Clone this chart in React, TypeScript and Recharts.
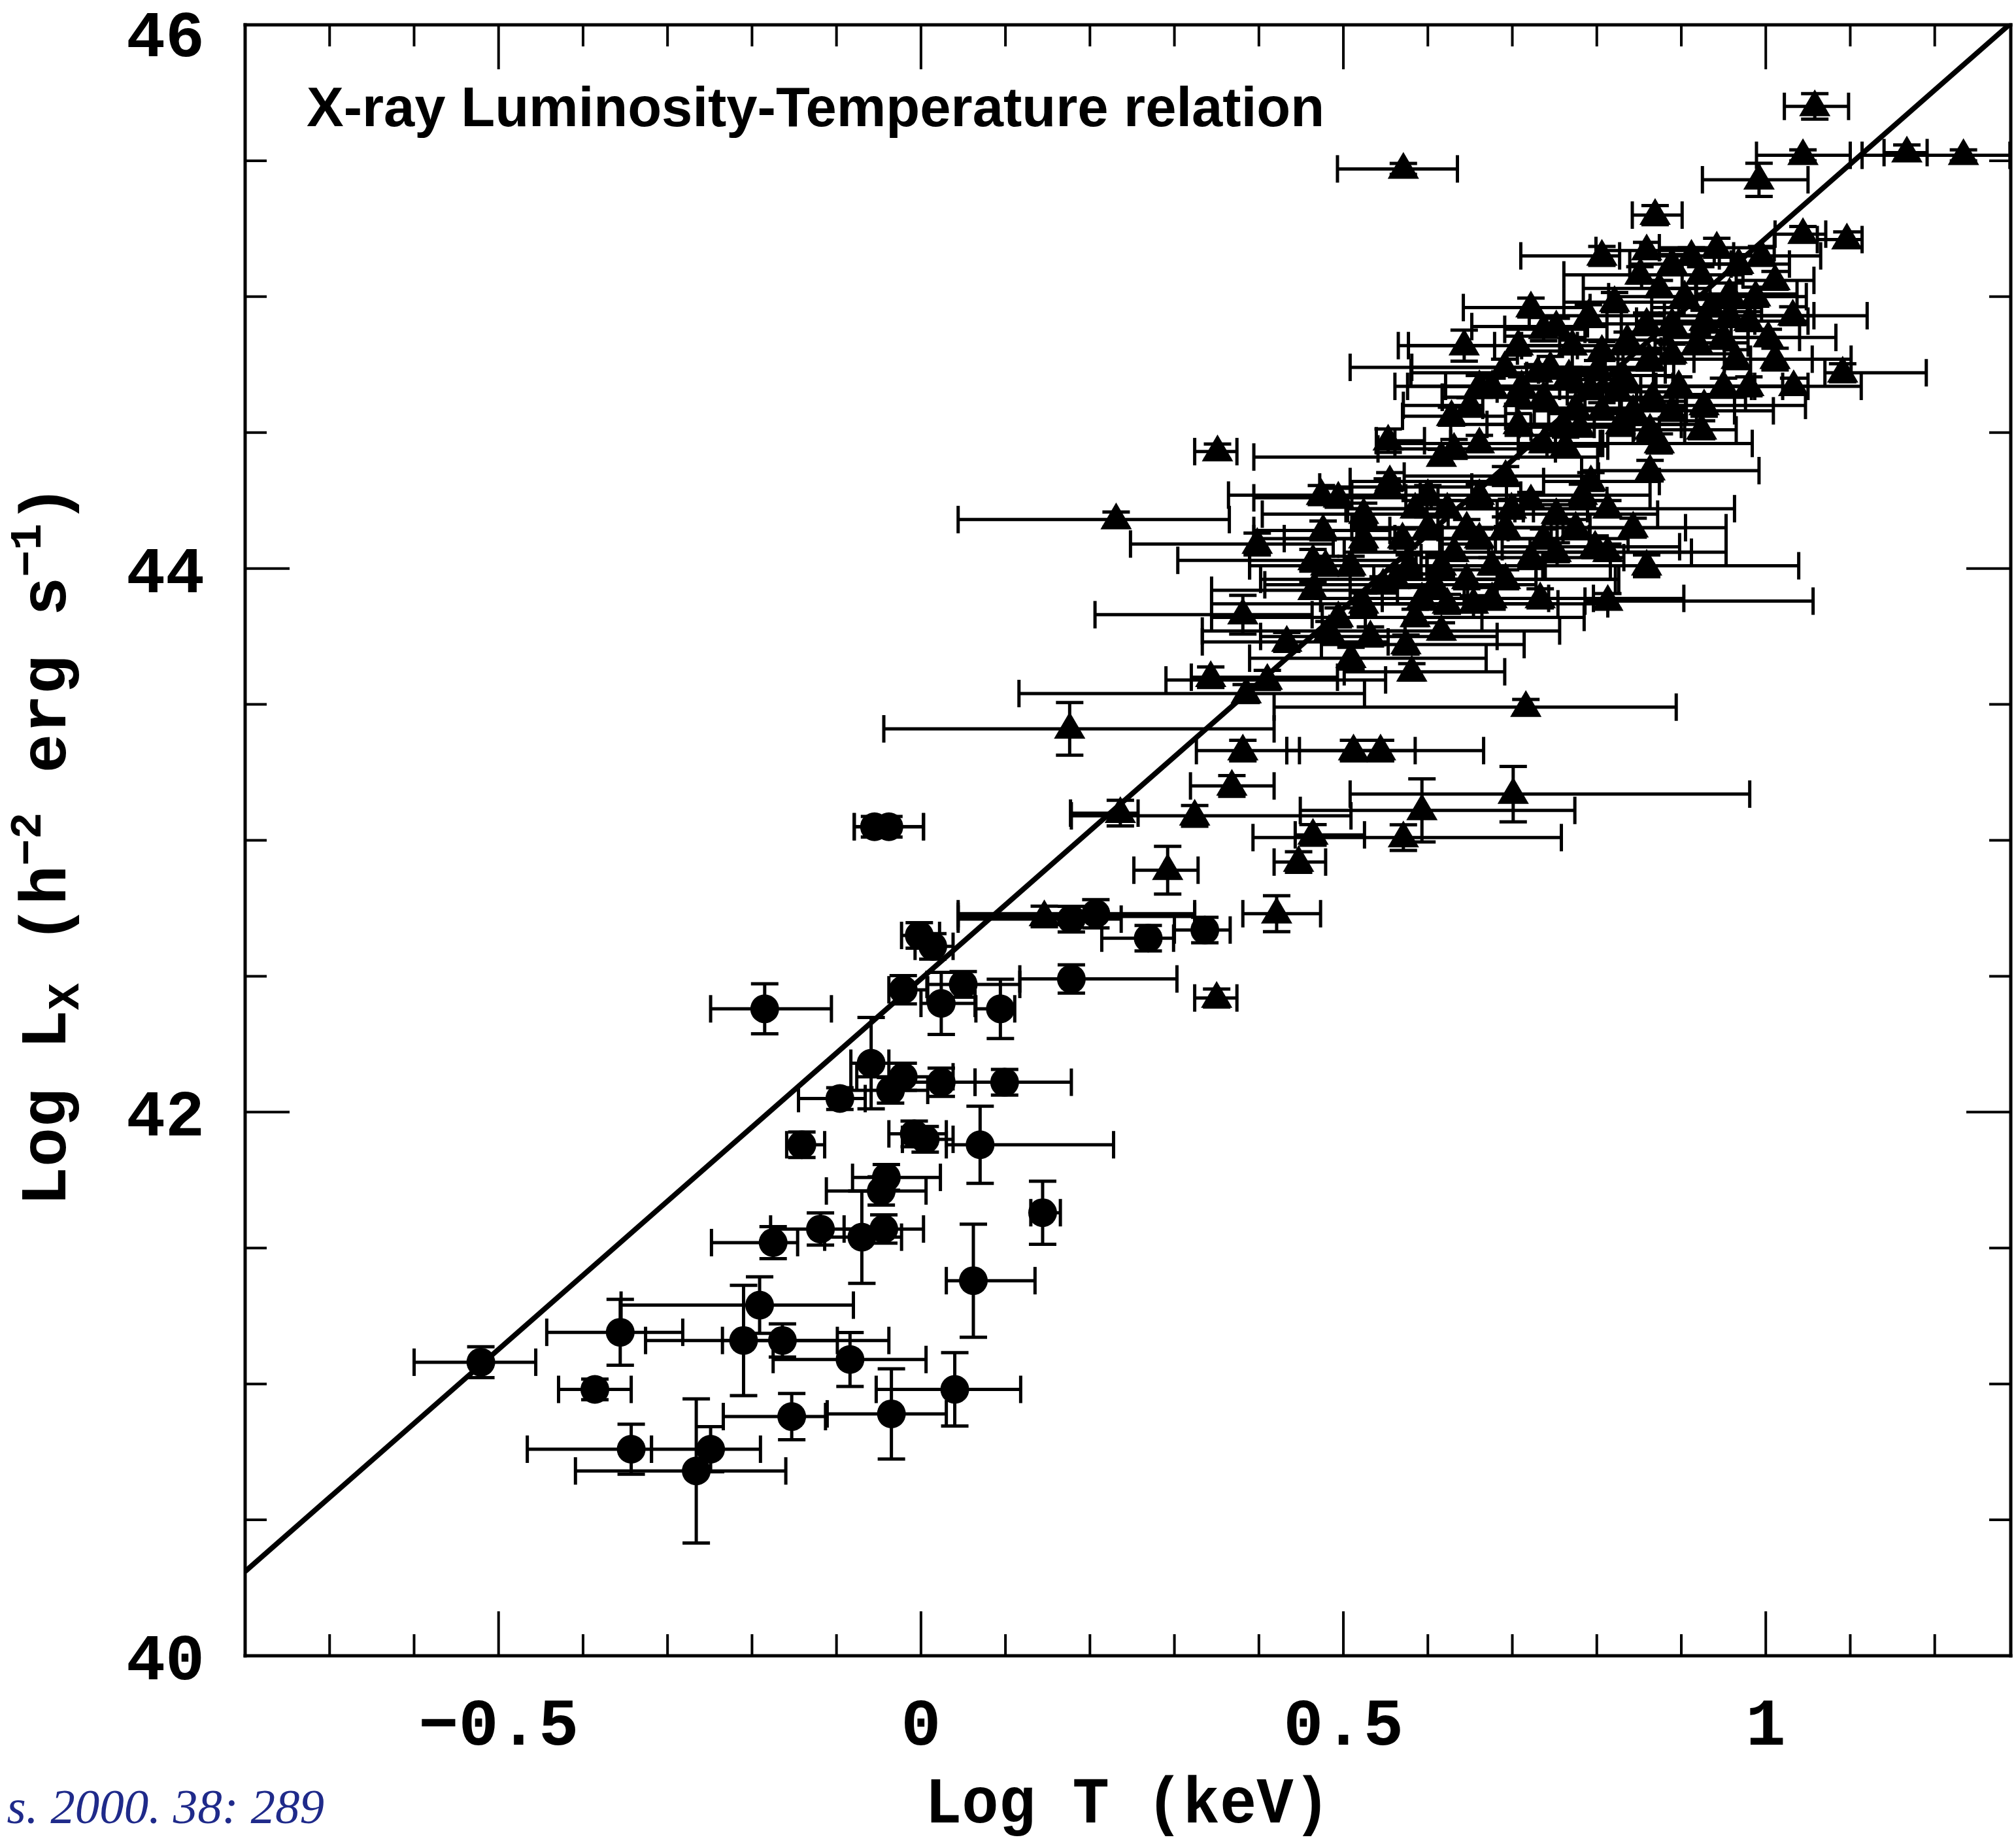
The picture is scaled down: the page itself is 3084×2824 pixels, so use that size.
import React from 'react';
import { ScatterChart, Scatter, XAxis, YAxis, ErrorBar } from 'recharts';

// Each row: [log T (keV), log Lx, T error below, T error above, Lx error]
const groupPoints: number[][] = [
  [-0.521, 41.08, 0.079, 0.065, 0.057],
  [-0.386, 40.98, 0.043, 0.043, 0.038],
  [-0.356, 41.19, 0.087, 0.074, 0.121],
  [-0.343, 40.76, 0.123, 0.024, 0.092],
  [-0.266, 40.68, 0.143, 0.106, 0.265],
  [-0.249, 40.76, 0.070, 0.059, 0.083],
  [-0.210, 41.16, 0.116, 0.172, 0.203],
  [-0.191, 41.29, 0.164, 0.111, 0.104],
  [-0.175, 41.52, 0.073, 0.029, 0.059],
  [-0.164, 41.16, 0.071, 0.065, 0.061],
  [-0.153, 40.88, 0.081, 0.040, 0.085],
  [-0.119, 41.57, 0.059, 0.081, 0.059],
  [-0.084, 41.09, 0.091, 0.090, 0.099],
  [-0.070, 41.54, 0.044, 0.047, 0.170],
  [-0.044, 41.57, 0.047, 0.047, 0.052],
  [-0.047, 41.71, 0.065, 0.053, 0.052],
  [-0.035, 40.89, 0.076, 0.065, 0.166],
  [0.040, 40.98, 0.093, 0.078, 0.135],
  [0.062, 41.38, 0.032, 0.073, 0.208],
  [0.144, 41.63, 0.014, 0.021, 0.116],
  [-0.096, 42.05, 0.049, 0.030, 0.040],
  [-0.059, 42.18, 0.024, 0.021, 0.168],
  [-0.021, 42.13, 0.055, 0.059, 0.050],
  [-0.036, 42.08, 0.047, 0.044, 0.047],
  [0.024, 42.11, 0.047, 0.040, 0.052],
  [0.099, 42.11, 0.035, 0.079, 0.047],
  [-0.008, 41.92, 0.030, 0.038, 0.047],
  [0.005, 41.90, 0.027, 0.033, 0.047],
  [0.070, 41.88, 0.040, 0.158, 0.142],
  [-0.041, 41.76, 0.040, 0.064, 0.047],
  [-0.141, 41.88, 0.018, 0.027, 0.047],
  [-0.185, 42.38, 0.064, 0.079, 0.092],
  [-0.055, 43.05, 0.024, 0.058, 0.038],
  [-0.038, 43.05, 0.041, 0.041, 0.038],
  [-0.002, 42.65, 0.021, 0.024, 0.047],
  [0.014, 42.61, 0.021, 0.024, 0.047],
  [-0.021, 42.45, 0.017, 0.029, 0.052],
  [0.024, 42.40, 0.024, 0.040, 0.114],
  [0.050, 42.47, 0.043, 0.067, 0.047],
  [0.178, 42.49, 0.061, 0.125, 0.052],
  [0.094, 42.38, 0.029, 0.017, 0.109],
  [0.178, 42.71, 0.134, 0.059, 0.047],
  [0.207, 42.73, 0.163, 0.117, 0.052],
  [0.269, 42.64, 0.055, 0.030, 0.047],
  [0.336, 42.67, 0.036, 0.030, 0.047],
];

const clusterPoints: number[][] = [
  [1.058, 45.70, 0.036, 0.040, 0.047],
  [0.571, 45.47, 0.078, 0.064, 0.020],
  [1.044, 45.52, 0.055, 0.056, 0.020],
  [0.992, 45.43, 0.067, 0.058, 0.061],
  [1.167, 45.53, 0.027, 0.024, 0.028],
  [1.234, 45.52, 0.120, 0.055, 0.020],
  [0.869, 45.30, 0.027, 0.032, 0.035],
  [0.806, 45.15, 0.096, 0.021, 0.035],
  [1.044, 45.23, 0.033, 0.027, 0.028],
  [1.096, 45.21, 0.035, 0.018, 0.028],
  [0.942, 45.18, 0.068, 0.068, 0.035],
  [1.011, 45.06, 0.046, 0.046, 0.033],
  [1.032, 44.93, 0.052, 0.088, 0.033],
  [1.091, 44.72, 0.021, 0.099, 0.033],
  [0.863, 44.51, 0.020, 0.041, 0.040],
  [0.924, 44.51, 0.050, 0.041, 0.033],
  [0.863, 44.36, 0.081, 0.129, 0.038],
  [0.643, 44.82, 0.078, 0.036, 0.057],
  [0.737, 44.88, 0.046, 0.049, 0.043],
  [0.650, 44.60, 0.079, 0.015, 0.028],
  [0.628, 44.56, 0.058, 0.064, 0.033],
  [0.553, 44.47, 0.014, 0.043, 0.043],
  [0.616, 44.41, 0.222, 0.185, 0.028],
  [0.555, 44.32, 0.047, 0.138, 0.033],
  [0.476, 44.14, 0.082, 0.079, 0.035],
  [0.780, 44.52, 0.058, 0.064, 0.033],
  [0.793, 44.32, 0.056, 0.081, 0.033],
  [0.763, 44.45, 0.056, 0.050, 0.033],
  [0.351, 44.43, 0.027, 0.023, 0.028],
  [0.231, 44.18, 0.187, 0.134, 0.028],
  [0.176, 43.41, 0.220, 0.242, 0.097],
  [0.381, 43.83, 0.175, 0.082, 0.071],
  [0.343, 43.60, 0.023, 0.150, 0.038],
  [0.385, 43.54, 0.269, 0.140, 0.033],
  [0.381, 43.33, 0.055, 0.067, 0.038],
  [0.368, 43.20, 0.049, 0.050, 0.038],
  [0.236, 43.10, 0.059, 0.021, 0.047],
  [0.324, 43.09, 0.146, 0.185, 0.038],
  [0.292, 42.89, 0.040, 0.036, 0.088],
  [0.350, 42.42, 0.026, 0.024, 0.033],
  [0.146, 42.72, 0.102, 0.178, 0.038],
  [0.716, 43.49, 0.298, 0.178, 0.028],
  [0.813, 43.88, 0.027, 0.243, 0.028],
  [0.512, 43.33, 0.079, 0.073, 0.038],
  [0.544, 43.33, 0.111, 0.122, 0.038],
  [0.701, 43.17, 0.193, 0.280, 0.102],
  [0.593, 43.11, 0.144, 0.181, 0.116],
  [0.571, 43.01, 0.178, 0.187, 0.047],
  [0.464, 43.02, 0.021, 0.061, 0.038],
  [0.447, 42.92, 0.029, 0.032, 0.038],
  [0.421, 42.73, 0.040, 0.052, 0.066],
  [0.968, 45.12, 0.05, 0.06, 0.035],
  [0.923, 45.08, 0.07, 0.05, 0.03],
  [0.957, 45.01, 0.04, 0.08, 0.04],
  [0.904, 45.00, 0.09, 0.06, 0.03],
  [0.980, 44.91, 0.05, 0.07, 0.035],
  [0.889, 44.90, 0.06, 0.09, 0.04],
  [0.836, 44.84, 0.08, 0.05, 0.03],
  [0.806, 44.80, 0.10, 0.07, 0.035],
  [0.771, 44.82, 0.06, 0.06, 0.03],
  [0.745, 44.74, 0.237, 0.08, 0.04],
  [0.767, 44.71, 0.05, 0.10, 0.03],
  [0.801, 44.73, 0.07, 0.08, 0.035],
  [0.831, 44.71, 0.09, 0.06, 0.03],
  [0.862, 44.77, 0.06, 0.12, 0.04],
  [0.889, 44.79, 0.08, 0.07, 0.035],
  [0.919, 44.83, 0.05, 0.06, 0.03],
  [0.950, 44.85, 0.07, 0.09, 0.04],
  [1.003, 44.85, 0.05, 0.08, 0.03],
  [0.897, 44.67, 0.10, 0.09, 0.035],
  [0.866, 44.63, 0.08, 0.11, 0.04],
  [0.825, 44.65, 0.06, 0.07, 0.03],
  [0.792, 44.66, 0.11, 0.06, 0.035],
  [0.775, 44.59, 0.07, 0.13, 0.04],
  [0.730, 44.72, 0.15, 0.08, 0.03],
  [0.711, 44.67, 0.09, 0.10, 0.035],
  [0.828, 44.53, 0.12, 0.09, 0.04],
  [0.889, 44.58, 0.06, 0.12, 0.035],
  [0.950, 44.67, 0.08, 0.07, 0.03],
  [0.965, 44.77, 0.05, 0.09, 0.035],
  [0.935, 44.96, 0.07, 0.06, 0.03],
  [0.912, 45.15, 0.06, 0.05, 0.03],
  [0.995, 45.15, 0.05, 0.07, 0.035],
  [0.874, 45.03, 0.09, 0.06, 0.03],
  [0.859, 44.90, 0.07, 0.10, 0.04],
  [0.707, 44.82, 0.13, 0.07, 0.035],
  [0.676, 44.67, 0.10, 0.08, 0.03],
  [0.927, 44.60, 0.08, 0.12, 0.04],
  [0.722, 44.96, 0.08, 0.07, 0.035],
  [0.752, 44.89, 0.10, 0.06, 0.03],
  [0.790, 44.93, 0.07, 0.09, 0.04],
  [0.821, 44.98, 0.06, 0.08, 0.035],
  [0.851, 45.08, 0.09, 0.05, 0.03],
  [0.889, 45.12, 0.05, 0.07, 0.035],
  [0.927, 44.91, 0.08, 0.06, 0.04],
  [0.957, 44.93, 0.06, 0.10, 0.03],
  [0.988, 45.00, 0.07, 0.06, 0.035],
  [1.011, 44.77, 0.06, 0.09, 0.04],
  [1.033, 44.67, 0.05, 0.08, 0.03],
  [0.980, 44.67, 0.09, 0.07, 0.035],
  [0.843, 44.58, 0.10, 0.12, 0.04],
  [0.806, 44.58, 0.08, 0.10, 0.03],
  [0.737, 44.63, 0.12, 0.09, 0.035],
  [0.760, 44.53, 0.09, 0.14, 0.04],
  [0.874, 44.46, 0.07, 0.11, 0.035],
  [0.691, 44.74, 0.11, 0.08, 0.03],
  [0.661, 44.67, 0.10, 0.12, 0.04],
  [0.859, 45.17, 0.06, 0.08, 0.03],
  [0.494, 44.26, 0.10, 0.08, 0.035],
  [0.524, 44.20, 0.12, 0.10, 0.04],
  [0.585, 44.22, 0.08, 0.14, 0.03],
  [0.570, 44.11, 0.14, 0.11, 0.035],
  [0.600, 44.15, 0.09, 0.16, 0.04],
  [0.631, 44.06, 0.13, 0.09, 0.03],
  [0.661, 44.11, 0.10, 0.13, 0.035],
  [0.692, 44.15, 0.08, 0.10, 0.04],
  [0.722, 44.25, 0.11, 0.09, 0.03],
  [0.752, 44.20, 0.07, 0.12, 0.035],
  [0.783, 44.27, 0.09, 0.08, 0.04],
  [0.813, 44.22, 0.10, 0.15, 0.03],
  [0.737, 44.11, 0.12, 0.10, 0.035],
  [0.616, 44.01, 0.15, 0.12, 0.04],
  [0.646, 43.96, 0.11, 0.18, 0.035],
  [0.676, 44.01, 0.09, 0.14, 0.03],
  [0.722, 44.04, 0.13, 0.11, 0.04],
  [0.752, 44.06, 0.08, 0.16, 0.035],
  [0.562, 43.96, 0.16, 0.12, 0.03],
  [0.593, 43.89, 0.12, 0.15, 0.04],
  [0.623, 43.87, 0.10, 0.19, 0.035],
  [0.654, 43.87, 0.14, 0.10, 0.03],
  [0.524, 43.87, 0.18, 0.13, 0.04],
  [0.494, 43.82, 0.15, 0.17, 0.035],
  [0.464, 43.92, 0.12, 0.10, 0.03],
  [0.479, 44.01, 0.09, 0.12, 0.035],
  [0.524, 44.11, 0.13, 0.09, 0.04],
  [0.574, 43.72, 0.10, 0.14, 0.035],
  [0.581, 43.62, 0.08, 0.11, 0.03],
  [0.509, 43.67, 0.12, 0.16, 0.04],
  [0.483, 43.77, 0.15, 0.09, 0.035],
  [0.585, 43.82, 0.11, 0.20, 0.03],
  [0.676, 43.89, 0.13, 0.12, 0.04],
  [0.733, 43.89, 0.09, 0.17, 0.035],
  [0.661, 44.46, 0.10, 0.08, 0.03],
  [0.692, 44.34, 0.12, 0.11, 0.035],
  [0.707, 44.53, 0.08, 0.09, 0.04],
  [0.737, 44.46, 0.11, 0.07, 0.03],
  [0.631, 44.44, 0.09, 0.12, 0.035],
  [0.398, 44.09, 0.15, 0.09, 0.04],
  [0.474, 44.27, 0.11, 0.13, 0.035],
  [0.552, 44.30, 0.08, 0.10, 0.03],
  [0.410, 43.59, 0.12, 0.14, 0.035],
  [0.707, 44.63, 0.09, 0.10, 0.03],
  [0.464, 44.03, 0.16, 0.11, 0.04],
  [0.433, 43.73, 0.10, 0.12, 0.035],
  [0.813, 44.06, 0.06, 0.14, 0.03],
  [0.843, 44.15, 0.09, 0.11, 0.035],
  [0.859, 44.01, 0.12, 0.18, 0.04],
  [0.600, 44.27, 0.09, 0.11, 0.035],
  [0.623, 44.22, 0.12, 0.08, 0.03],
  [0.661, 44.27, 0.07, 0.12, 0.04],
  [0.699, 44.22, 0.10, 0.09, 0.035],
  [0.646, 44.15, 0.13, 0.10, 0.03],
  [0.578, 44.01, 0.11, 0.15, 0.04],
  [0.692, 43.96, 0.09, 0.13, 0.035],
  [0.547, 43.94, 0.14, 0.10, 0.03],
  [0.608, 43.94, 0.10, 0.12, 0.04],
  [0.509, 44.01, 0.12, 0.09, 0.035],
  [0.775, 44.15, 0.08, 0.13, 0.03],
  [0.798, 44.08, 0.11, 0.10, 0.04],
  [0.532, 43.75, 0.13, 0.15, 0.035],
  [0.616, 43.77, 0.09, 0.14, 0.03],
];

// Best-fit relation endpoints [log T, log Lx]
const fitLinePoints: number[][] = [
  [-0.8, 40.31],
  [1.288, 46.0],
];

const xDomain = [-0.8, 1.29];
const yDomain = [40, 46];
const xTickValues = [-0.7, -0.6, -0.5, -0.4, -0.3, -0.2, -0.1, 0, 0.1, 0.2, 0.3, 0.4, 0.5, 0.6, 0.7, 0.8, 0.9, 1, 1.1, 1.2];
const yTickValues = [40, 40.5, 41, 41.5, 42, 42.5, 43, 43.5, 44, 44.5, 45, 45.5, 46];
const xTickLabels: Record<string, string> = { '-0.5': '\u22120.5', '0': '0', '0.5': '0.5', '1': '1' };
const yTickLabels: Record<string, string> = { '40': '40', '42': '42', '44': '44', '46': '46' };

const titleText = 'X-ray Luminosity-Temperature relation';
const xAxisTitle = 'Log T (keV)';
const citationText = 's. 2000. 38: 289';

const toRows = (pts: number[][]) =>
  pts.map((p) => ({ t: p[0], l: p[1], et: [p[2], p[3]], el: p[4] }));

const groupRows = toRows(groupPoints);
const clusterRows = toRows(clusterPoints);
const fitRows = fitLinePoints.map((p) => ({ t: p[0], l: p[1] }));

const W = 3084;
const H = 2824;
const MONO = "'Liberation Mono', 'DejaVu Sans Mono', monospace";
const MAJOR = 68;
const MINOR = 33;
const TICK_W = 4;
const ERR_W = 5;

const makeXTick = (dir: number, withLabel: boolean) => (props: any) => {
  const { x, y, payload } = props;
  const key = String(payload.value);
  const major = key in xTickLabels;
  const len = major ? MAJOR : MINOR;
  return (
    <g>
      <line x1={x} x2={x} y1={y} y2={y - dir * len} stroke="#000" strokeWidth={TICK_W} />
      {withLabel && major && (
        <text x={x} y={y + 136} textAnchor="middle" fontFamily={MONO} fontWeight="bold" fontSize={102} fill="#000">
          {xTickLabels[key]}
        </text>
      )}
    </g>
  );
};

const makeYTick = (dir: number, withLabel: boolean) => (props: any) => {
  const { x, y, payload } = props;
  const key = String(payload.value);
  const major = key in yTickLabels;
  const len = major ? MAJOR : MINOR;
  return (
    <g>
      <line x1={x} x2={x + dir * len} y1={y} y2={y} stroke="#000" strokeWidth={TICK_W} />
      {withLabel && major && (
        <text
          x={x - 62}
          y={key === '46' ? y + 12 : y}
          dy="0.36em"
          textAnchor="end"
          fontFamily={MONO}
          fontWeight="bold"
          fontSize={100}
          fill="#000"
        >
          {yTickLabels[key]}
        </text>
      )}
    </g>
  );
};

const Triangle = (props: any) => {
  const { cx, cy } = props;
  if (cx == null || cy == null) return <g />;
  return <polygon points={`${cx},${cy - 26} ${cx - 24},${cy + 15} ${cx + 24},${cy + 15}`} fill="#000" />;
};

const Dot = (props: any) => {
  const { cx, cy } = props;
  if (cx == null || cy == null) return <g />;
  return <circle cx={cx} cy={cy} r={22} fill="#000" />;
};

const NoShape = () => <g />;

const frameLine = { stroke: '#000', strokeWidth: 5, strokeLinecap: 'square' as const };

export default function App() {
  return (
    <div style={{ position: 'absolute', left: 0, top: 0, width: W, height: H, background: '#fff' }}>
      <ScatterChart width={W} height={H} margin={{ top: 30, right: 0, bottom: 281, left: 365 }}>
        <XAxis
          xAxisId="b"
          orientation="bottom"
          type="number"
          dataKey="t"
          domain={xDomain}
          ticks={xTickValues}
          interval={0}
          allowDataOverflow
          height={10}
          tickSize={0}
          tickMargin={0}
          tickLine={false}
          axisLine={frameLine}
          tick={makeXTick(1, true)}
        />
        <XAxis
          xAxisId="t"
          orientation="top"
          type="number"
          dataKey="t"
          domain={xDomain}
          ticks={xTickValues}
          interval={0}
          allowDataOverflow
          height={8}
          tickSize={0}
          tickMargin={0}
          tickLine={false}
          axisLine={frameLine}
          tick={makeXTick(-1, false)}
        />
        <YAxis
          yAxisId="l"
          orientation="left"
          type="number"
          dataKey="l"
          domain={yDomain}
          ticks={yTickValues}
          interval={0}
          allowDataOverflow
          width={10}
          tickSize={0}
          tickMargin={0}
          tickLine={false}
          axisLine={frameLine}
          tick={makeYTick(1, true)}
        />
        <YAxis
          yAxisId="r"
          orientation="right"
          type="number"
          dataKey="l"
          domain={yDomain}
          ticks={yTickValues}
          interval={0}
          allowDataOverflow
          width={8}
          tickSize={0}
          tickMargin={0}
          tickLine={false}
          axisLine={frameLine}
          tick={makeYTick(-1, false)}
        />
        <Scatter data={clusterRows} xAxisId="b" yAxisId="l" shape={Triangle} isAnimationActive={false}>
          <ErrorBar dataKey="et" direction="x" width={21} stroke="#000" strokeWidth={ERR_W} />
          <ErrorBar dataKey="el" direction="y" width={21} stroke="#000" strokeWidth={ERR_W} />
        </Scatter>
        <Scatter data={groupRows} xAxisId="b" yAxisId="l" shape={Dot} isAnimationActive={false}>
          <ErrorBar dataKey="et" direction="x" width={21} stroke="#000" strokeWidth={ERR_W} />
          <ErrorBar dataKey="el" direction="y" width={21} stroke="#000" strokeWidth={ERR_W} />
        </Scatter>
        <Scatter
          data={fitRows}
          xAxisId="b"
          yAxisId="l"
          shape={NoShape}
          line={{ stroke: '#000', strokeWidth: 8 }}
          isAnimationActive={false}
        />
      </ScatterChart>
      <svg
        width={W}
        height={H}
        style={{ position: 'absolute', left: 0, top: 0, pointerEvents: 'none' }}
      >
        <text x={469} y={193} fontFamily="'Liberation Sans', Arial, sans-serif" fontWeight="bold" fontSize={85} fill="#000">
          {titleText}
        </text>
        <text
          x={1725}
          y={2788}
          textAnchor="middle"
          fontFamily={MONO}
          fontWeight="bold"
          fontSize={100}
          textLength={620}
          lengthAdjust="spacingAndGlyphs"
          fill="#000"
        >
          {xAxisTitle}
        </text>
        <text
          transform="translate(100,1293) rotate(-90)"
          textAnchor="middle"
          fontFamily={MONO}
          fontWeight="bold"
          fontSize={100}
          fill="#000"
        >
          <tspan>Log L</tspan>
          <tspan dy={20} fontSize={68}>X</tspan>
          <tspan dy={-20}> (h</tspan>
          <tspan dy={-38} fontSize={68}>{'\u22122'}</tspan>
          <tspan dy={38}> erg s</tspan>
          <tspan dy={-38} fontSize={68}>{'\u22121'}</tspan>
          <tspan dy={38}>)</tspan>
        </text>
        <text
          x={496}
          y={2789}
          textAnchor="end"
          fontFamily="'Liberation Serif', 'Times New Roman', serif"
          fontStyle="italic"
          fontSize={75}
          fill="#1f2a8a"
        >
          {citationText}
        </text>
      </svg>
    </div>
  );
}
